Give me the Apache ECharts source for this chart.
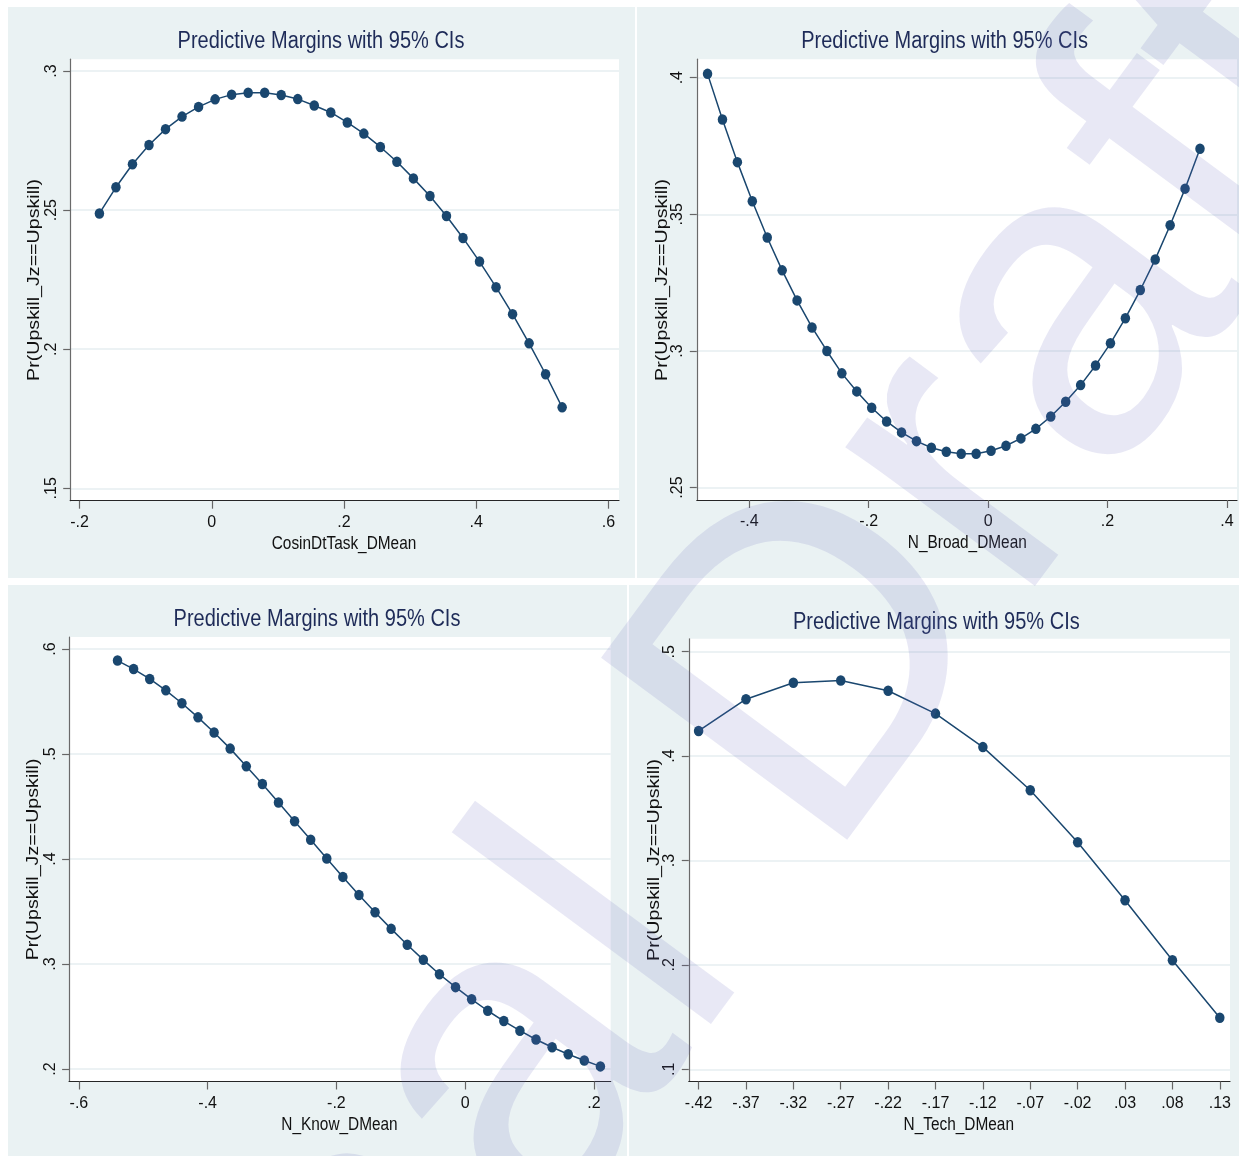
<!DOCTYPE html>
<html>
<head>
<meta charset="utf-8">
<script src="https://cdn.jsdelivr.net/npm/echarts@6/dist/echarts.min.js"></script>
<style>
html,body{margin:0;padding:0;background:#fff;}
#chart{width:1239px;height:1156px;}
</style>
</head>
<body>
<div id="chart"></div>
<script>
// ---------- data ----------
const titleText = 'Predictive Margins with 95% CIs';
const yTitle = 'Pr(Upskill_Jz==Upskill)';

const xName1 = 'CosinDtTask_DMean';
const x1 = [-0.170,-0.145,-0.120,-0.095,-0.070,-0.045,-0.020,0.005,0.030,0.055,0.080,0.105,0.130,0.155,0.180,0.205,0.230,0.255,0.280,0.305,0.330,0.355,0.380,0.405,0.430,0.455,0.480,0.505,0.530];
const y1 = [0.2488,0.2582,0.2665,0.2734,0.2791,0.2836,0.2871,0.2898,0.2915,0.2922,0.2922,0.2914,0.2899,0.2876,0.2851,0.2815,0.2775,0.2727,0.2674,0.2614,0.2551,0.2479,0.2400,0.2315,0.2223,0.2126,0.2021,0.1910,0.1791];
const xTicks1 = [-0.2,0,0.2,0.4,0.6];
const yTicks1 = [0.15,0.2,0.25,0.3];

const xName2 = 'N_Broad_DMean';
const x2 = [-0.470,-0.445,-0.420,-0.395,-0.370,-0.345,-0.320,-0.295,-0.270,-0.245,-0.220,-0.195,-0.170,-0.145,-0.120,-0.095,-0.070,-0.045,-0.020,0.005,0.030,0.055,0.080,0.105,0.130,0.155,0.180,0.205,0.230,0.255,0.280,0.305,0.330,0.355];
const y2 = [0.4014,0.3847,0.3691,0.3548,0.3415,0.3295,0.3185,0.3086,0.3000,0.2918,0.2852,0.2792,0.2742,0.2702,0.2670,0.2646,0.2631,0.2624,0.2624,0.2635,0.2653,0.2680,0.2715,0.2760,0.2814,0.2875,0.2947,0.3028,0.3120,0.3223,0.3335,0.3460,0.3594,0.3740];
const xTicks2 = [-0.4,-0.2,0,0.2,0.4];
const yTicks2 = [0.25,0.3,0.35,0.4];

const xName3 = 'N_Know_DMean';
const x3 = [-0.540,-0.515,-0.490,-0.465,-0.440,-0.415,-0.390,-0.365,-0.340,-0.315,-0.290,-0.265,-0.240,-0.215,-0.190,-0.165,-0.140,-0.115,-0.090,-0.065,-0.040,-0.015,0.010,0.035,0.060,0.085,0.110,0.135,0.160,0.185,0.210];
const y3 = [0.5891,0.5810,0.5716,0.5607,0.5484,0.5350,0.5206,0.5052,0.4883,0.4715,0.4539,0.4360,0.4184,0.4005,0.3830,0.3658,0.3493,0.3335,0.3183,0.3040,0.2903,0.2780,0.2664,0.2555,0.2457,0.2365,0.2281,0.2207,0.2141,0.2081,0.2025];
const xTicks3 = [-0.6,-0.4,-0.2,0,0.2];
const yTicks3 = [0.2,0.3,0.4,0.5,0.6];

const xName4 = 'N_Tech_DMean';
const x4 = [-0.42,-0.37,-0.32,-0.27,-0.22,-0.17,-0.12,-0.07,-0.02,0.03,0.08,0.13];
const y4 = [0.4241,0.4545,0.4703,0.4725,0.4626,0.4407,0.4086,0.3673,0.3175,0.2620,0.2045,0.1494];
const xTicks4 = [-0.42,-0.37,-0.32,-0.27,-0.22,-0.17,-0.12,-0.07,-0.02,0.03,0.08,0.13];
const yTicks4 = [0.1,0.2,0.3,0.4,0.5];

const watermarkText = 'Final Draft';

// ---------- layout ----------
const FONT = '"Liberation Sans", Arial, Helvetica, sans-serif';
const NAVY = '#1a476f';
const BG = '#eaf2f3';

const panels = [
  {bg:[8,7,627,571], grid:{left:70.2,top:59.2,width:548.8,height:441.5}, xr:[-0.2142,0.616], yr:[0.14555,0.30424],
   x:x1,y:y1,xt:xTicks1,yt:yTicks1,xn:xName1, title:[321,41.5], xnPos:[344,543.7], ynPos:[34,280]},
  {bg:[637,7,602,571], grid:{left:696.8,top:59.2,width:540.2,height:440.8}, xr:[-0.488,0.417], yr:[0.24546,0.40677],
   x:x2,y:y2,xt:xTicks2,yt:yTicks2,xn:xName2, title:[944.6,41.4], xnPos:[967.3,543.5], ynPos:[662.6,280]},
  {bg:[8,585,619,571], grid:{left:69.1,top:637,width:541.6,height:444.5}, xr:[-0.6152,0.226], yr:[0.1881,0.61153],
   x:x3,y:y3,xt:xTicks3,yt:yTicks3,xn:xName3, title:[317,619.3], xnPos:[339.5,1124.6], ynPos:[33.7,859.4]},
  {bg:[629,585,610,571], grid:{left:688.8,top:638.8,width:541.2,height:442.7}, xr:[-0.43034,0.14076], yr:[0.08831,0.51236],
   x:x4,y:y4,xt:xTicks4,yt:yTicks4,xn:xName4, title:[936.3,622.2], xnPos:[958.8,1124.6], ynPos:[654.8,860]}
];

function fmt(v){
  if (Math.abs(v) < 1e-9) return '0';
  const s = String(Math.round(v*1000)/1000);
  return s.replace('0.', '.');
}

const grids = [], xAxes = [], yAxes = [], series = [], graphics = [];
panels.forEach((p, i) => {
  graphics.push({type:'rect', shape:{x:p.bg[0], y:p.bg[1], width:p.bg[2], height:p.bg[3]}, style:{fill:BG}, z:-100, silent:true});
  grids.push(Object.assign({show:true, backgroundColor:'#ffffff', borderWidth:0, containLabel:false}, p.grid));
  xAxes.push({
    type:'value', gridIndex:i, min:p.xr[0], max:p.xr[1],
    axisLine:{show:true, onZero:false, lineStyle:{color:'#262626', width:1.2}},
    axisTick:{show:true, length:8, lineStyle:{color:'#666', width:1.2}, customValues:p.xt},
    axisLabel:{fontFamily:FONT, fontSize:16, color:'#111', margin:14, formatter:fmt, customValues:p.xt},
    splitLine:{show:false}
  });
  yAxes.push({
    type:'value', gridIndex:i, min:p.yr[0], max:p.yr[1],
    axisLine:{show:true, onZero:false, lineStyle:{color:'#6a6a6a', width:1.2}},
    axisTick:{show:true, length:7, lineStyle:{color:'#666', width:1.2}, customValues:p.yt},
    axisLabel:{fontFamily:FONT, fontSize:16, color:'#111', margin:11, rotate:90, formatter:fmt, customValues:p.yt},
    splitLine:{show:true, lineStyle:{color:'#e6eef0', width:1.6}}
  });
  series.push({
    type:'line', xAxisIndex:i, yAxisIndex:i,
    data:p.x.map((v, k) => [v, p.y[k]]),
    symbol:'circle', symbolSize:[9.5,10.5], showSymbol:true,
    itemStyle:{color:NAVY}, lineStyle:{color:NAVY, width:1.5},
    animation:false, silent:true
  });
  graphics.push({type:'text', x:p.title[0], y:p.title[1], scaleY:1.15, z:50, silent:true,
    style:{text:titleText, font:'20px ' + FONT, fill:'#1e2b58', align:'center', verticalAlign:'middle'}});
  graphics.push({type:'text', x:p.xnPos[0], y:p.xnPos[1], scaleY:1.17, z:50, silent:true,
    style:{text:p.xn, font:'15.4px ' + FONT, fill:'#111', align:'center', verticalAlign:'middle'}});
  graphics.push({type:'text', x:p.ynPos[0], y:p.ynPos[1], scaleX:1.19, rotation:Math.PI/2, z:50, silent:true,
    style:{text:yTitle, font:'16.5px ' + FONT, fill:'#111', align:'center', verticalAlign:'middle'}});
});

graphics.push({type:'text', x:690, y:846, rotation:53.5*Math.PI/180, z:200, silent:true,
  style:{text:watermarkText, font:'445px ' + FONT, fill:'rgba(100,100,190,0.15)', align:'center', verticalAlign:'middle'}});

const chart = echarts.init(document.getElementById('chart'), null, {renderer:'canvas'});
chart.setOption({
  backgroundColor:'#ffffff',
  animation:false,
  grid:grids, xAxis:xAxes, yAxis:yAxes, series:series,
  graphic:{elements:graphics}
});
</script>
</body>
</html>
